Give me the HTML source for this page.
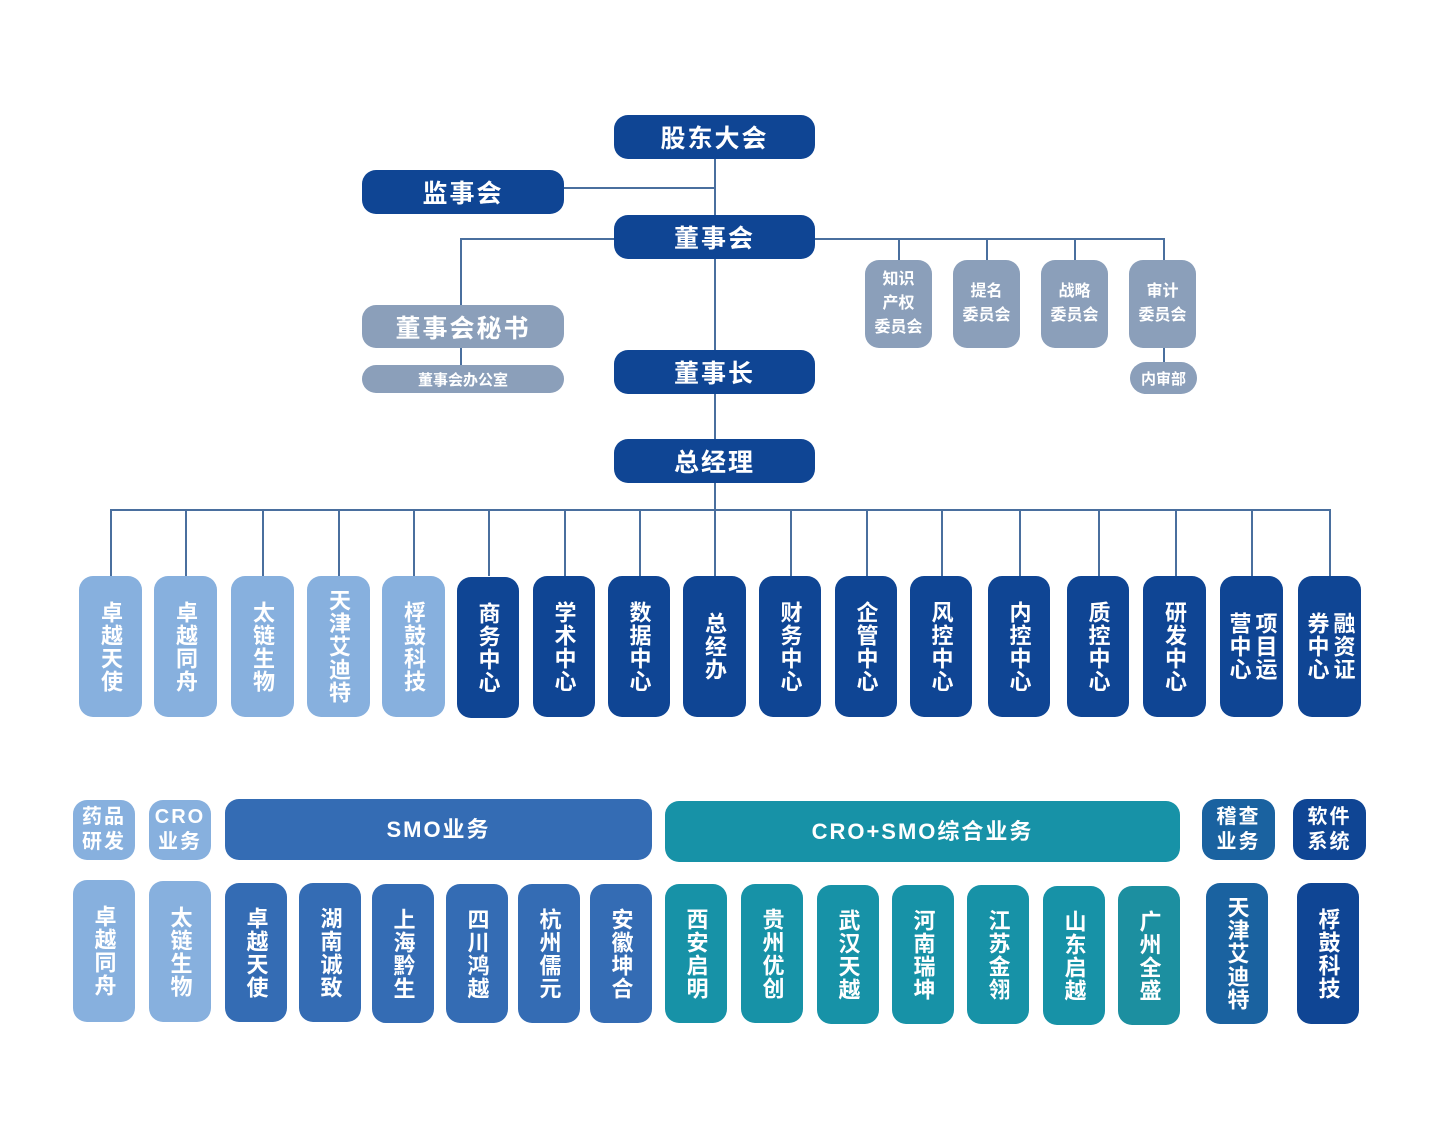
<!DOCTYPE html>
<html><head><meta charset="utf-8"><style>
body{margin:0;width:1440px;height:1140px;background:#fff;position:relative;overflow:hidden;font-family:"Liberation Sans","Noto Sans CJK SC",sans-serif}
.b{position:absolute;display:flex;align-items:center;justify-content:center;color:#fff;font-weight:bold;text-align:center;box-sizing:border-box}
.n{background:#0f4594}.l{background:#87b0de}.g{background:#8b9fba}.s{background:#346cb4}.t{background:#1792a7}.m{background:#1a62a0}
.h{border-radius:14px;font-size:25px;letter-spacing:2px}
.c{border-radius:14px;font-size:16px;line-height:24px}
.v{border-radius:14px;font-size:22px}
.v span{writing-mode:vertical-rl;line-height:27px;letter-spacing:1px}
.v2 span{height:78px;line-height:26px}
.ln{position:absolute;background:#4a6f9e}
.hd{border-radius:14px;font-size:20px;line-height:25px;letter-spacing:2px}
.big{font-size:22px}
</style></head><body>
<div class="ln" style="left:714px;top:159px;width:1.5px;height:351px"></div>
<div class="ln" style="left:564px;top:187px;width:150px;height:1.5px"></div>
<div class="ln" style="left:460px;top:238px;width:704px;height:1.5px"></div>
<div class="ln" style="left:460px;top:238px;width:1.5px;height:67px"></div>
<div class="ln" style="left:460px;top:348px;width:1.5px;height:17px"></div>
<div class="ln" style="left:898px;top:238px;width:1.5px;height:22px"></div>
<div class="ln" style="left:986px;top:238px;width:1.5px;height:22px"></div>
<div class="ln" style="left:1074px;top:238px;width:1.5px;height:22px"></div>
<div class="ln" style="left:1163px;top:238px;width:1.5px;height:124px"></div>
<div class="ln" style="left:110px;top:509px;width:1220px;height:1.5px"></div>
<div class="ln" style="left:110px;top:509px;width:1.5px;height:67px"></div>
<div class="ln" style="left:185px;top:509px;width:1.5px;height:67px"></div>
<div class="ln" style="left:262px;top:509px;width:1.5px;height:67px"></div>
<div class="ln" style="left:338px;top:509px;width:1.5px;height:67px"></div>
<div class="ln" style="left:413px;top:509px;width:1.5px;height:67px"></div>
<div class="ln" style="left:488px;top:509px;width:1.5px;height:67px"></div>
<div class="ln" style="left:564px;top:509px;width:1.5px;height:67px"></div>
<div class="ln" style="left:639px;top:509px;width:1.5px;height:67px"></div>
<div class="ln" style="left:714px;top:509px;width:1.5px;height:67px"></div>
<div class="ln" style="left:790px;top:509px;width:1.5px;height:67px"></div>
<div class="ln" style="left:866px;top:509px;width:1.5px;height:67px"></div>
<div class="ln" style="left:941px;top:509px;width:1.5px;height:67px"></div>
<div class="ln" style="left:1019px;top:509px;width:1.5px;height:67px"></div>
<div class="ln" style="left:1098px;top:509px;width:1.5px;height:67px"></div>
<div class="ln" style="left:1175px;top:509px;width:1.5px;height:67px"></div>
<div class="ln" style="left:1251px;top:509px;width:1.5px;height:67px"></div>
<div class="ln" style="left:1329px;top:509px;width:1.5px;height:67px"></div>

<div class="b n h" style="left:614px;top:115px;width:201px;height:44px">股东大会</div>
<div class="b n h" style="left:362px;top:170px;width:202px;height:44px">监事会</div>
<div class="b n h" style="left:614px;top:215px;width:201px;height:44px">董事会</div>
<div class="b g h" style="left:362px;top:305px;width:202px;height:43px">董事会秘书</div>
<div class="b g" style="left:362px;top:365px;width:202px;height:28px;border-radius:14px;font-size:15px">董事会办公室</div>
<div class="b n h" style="left:614px;top:350px;width:201px;height:44px">董事长</div>
<div class="b n h" style="left:614px;top:439px;width:201px;height:44px">总经理</div>
<div class="b g c" style="left:865px;top:260px;width:67px;height:88px">知识<br>产权<br>委员会</div>
<div class="b g c" style="left:953px;top:260px;width:67px;height:88px">提名<br>委员会</div>
<div class="b g c" style="left:1041px;top:260px;width:67px;height:88px">战略<br>委员会</div>
<div class="b g c" style="left:1129px;top:260px;width:67px;height:88px">审计<br>委员会</div>
<div class="b g" style="left:1130px;top:362px;width:67px;height:32px;border-radius:16px;font-size:15px">内审部</div>

<div class="b l v" style="left:79px;top:576px;width:63px;height:141px"><span>卓越天使</span></div>
<div class="b l v" style="left:154px;top:576px;width:63px;height:141px"><span>卓越同舟</span></div>
<div class="b l v" style="left:231px;top:576px;width:63px;height:141px"><span>太链生物</span></div>
<div class="b l v" style="left:307px;top:576px;width:63px;height:141px"><span>天津艾迪特</span></div>
<div class="b l v" style="left:382px;top:576px;width:63px;height:141px"><span>桴鼓科技</span></div>
<div class="b n v" style="left:457px;top:577px;width:62px;height:141px"><span>商务中心</span></div>
<div class="b n v" style="left:533px;top:576px;width:62px;height:141px"><span>学术中心</span></div>
<div class="b n v" style="left:608px;top:576px;width:62px;height:141px"><span>数据中心</span></div>
<div class="b n v" style="left:683px;top:576px;width:63px;height:141px"><span>总经办</span></div>
<div class="b n v" style="left:759px;top:576px;width:62px;height:141px"><span>财务中心</span></div>
<div class="b n v" style="left:835px;top:576px;width:62px;height:141px"><span>企管中心</span></div>
<div class="b n v" style="left:910px;top:576px;width:62px;height:141px"><span>风控中心</span></div>
<div class="b n v" style="left:988px;top:576px;width:62px;height:141px"><span>内控中心</span></div>
<div class="b n v" style="left:1067px;top:576px;width:62px;height:141px"><span>质控中心</span></div>
<div class="b n v" style="left:1143px;top:576px;width:63px;height:141px"><span>研发中心</span></div>
<div class="b n v v2" style="left:1220px;top:576px;width:63px;height:141px"><span>项目运营中心</span></div>
<div class="b n v v2" style="left:1298px;top:576px;width:63px;height:141px"><span>融资证券中心</span></div>

<div class="b l hd" style="left:73px;top:800px;width:62px;height:60px">药品<br>研发</div>
<div class="b l hd" style="left:149px;top:800px;width:62px;height:60px">CRO<br>业务</div>
<div class="b s hd big" style="left:225px;top:799px;width:427px;height:61px">SMO业务</div>
<div class="b t hd big" style="left:665px;top:801px;width:515px;height:61px">CRO+SMO综合业务</div>
<div class="b m hd" style="left:1202px;top:799px;width:73px;height:61px">稽查<br>业务</div>
<div class="b n hd" style="left:1293px;top:799px;width:73px;height:61px">软件<br>系统</div>

<div class="b l v" style="left:73px;top:880px;width:62px;height:142px"><span>卓越同舟</span></div>
<div class="b l v" style="left:149px;top:881px;width:62px;height:141px"><span>太链生物</span></div>
<div class="b s v" style="left:225px;top:883px;width:62px;height:139px"><span>卓越天使</span></div>
<div class="b s v" style="left:299px;top:883px;width:62px;height:139px"><span>湖南诚致</span></div>
<div class="b s v" style="left:372px;top:884px;width:62px;height:139px"><span>上海黔生</span></div>
<div class="b s v" style="left:446px;top:884px;width:62px;height:139px"><span>四川鸿越</span></div>
<div class="b s v" style="left:518px;top:884px;width:62px;height:139px"><span>杭州儒元</span></div>
<div class="b s v" style="left:590px;top:884px;width:62px;height:139px"><span>安徽坤合</span></div>
<div class="b t v" style="left:665px;top:884px;width:62px;height:139px"><span>西安启明</span></div>
<div class="b t v" style="left:741px;top:884px;width:62px;height:139px"><span>贵州优创</span></div>
<div class="b t v" style="left:817px;top:885px;width:62px;height:139px"><span>武汉天越</span></div>
<div class="b t v" style="left:892px;top:885px;width:62px;height:139px"><span>河南瑞坤</span></div>
<div class="b t v" style="left:967px;top:885px;width:62px;height:139px"><span>江苏金翎</span></div>
<div class="b t v" style="left:1043px;top:886px;width:62px;height:139px"><span>山东启越</span></div>
<div class="b t v" style="left:1118px;top:886px;width:62px;height:139px;background:#1c8fa0"><span>广州全盛</span></div>
<div class="b m v" style="left:1206px;top:883px;width:62px;height:141px"><span>天津艾迪特</span></div>
<div class="b n v" style="left:1297px;top:883px;width:62px;height:141px"><span>桴鼓科技</span></div>
</body></html>
